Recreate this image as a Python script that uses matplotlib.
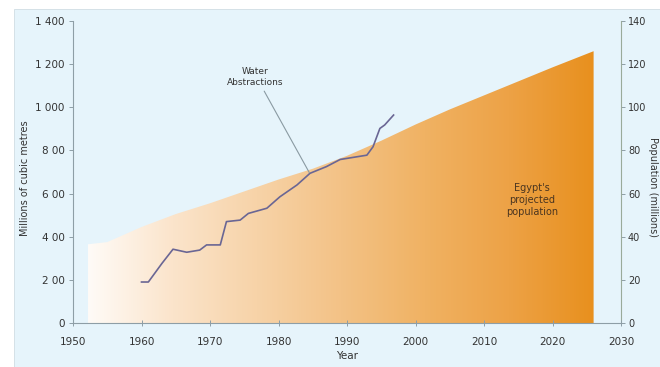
import numpy as np
import matplotlib
matplotlib.use("Agg")
import matplotlib.pyplot as plt
from matplotlib.colors import LinearSegmentedColormap
from matplotlib.patches import Rectangle

# projected population of Egypt (millions)
pop_years = [1952.2, 1955, 1960, 1965, 1970, 1975, 1980, 1985, 1990, 1995,
             2000, 2005, 2010, 2015, 2020, 2026]
pop_values = [36.5, 37.5, 44.5, 50.5, 55.5, 61, 66.5, 71.5, 77.5, 84.5,
              92, 99, 105.5, 112, 118.5, 126]

# water abstractions (millions of cubic metres)
water_years = [1960, 1961, 1963, 1964.6, 1966.6, 1968.5, 1969.5, 1971.5, 1972.4,
               1974.4, 1975.6, 1978.3, 1980.2, 1982.7, 1984.6, 1987, 1989,
               1992.9, 1993.8, 1994.8, 1995.5, 1996.8]
water_values = [190, 190, 277, 342, 328, 338, 362, 362, 470, 477, 508, 532,
                585, 640, 694, 725, 758, 778, 817, 902, 918, 964]

left_ticks = [0, 200, 400, 600, 800, 1000, 1200, 1400]
left_labels = ["0", "2 00", "4 00", "6 00", "8 00", "1 000", "1 200", "1 400"]
right_ticks = [0, 20, 40, 60, 80, 100, 120, 140]
x_ticks = [1950, 1960, 1970, 1980, 1990, 2000, 2010, 2020, 2030]

bg = "#e6f4fb"
txt = "#333333"
spine = "#8e9ea6"

fig = plt.figure(figsize=(6.6, 3.67), dpi=100, facecolor="white")
fig.patches.append(Rectangle((14 / 660, 0), 1, 1 - 9 / 367, transform=fig.transFigure,
                             facecolor=bg, edgecolor="#d0dde3", lw=0.6, zorder=-10))

rect = [73 / 660, 1 - 323 / 367, (621 - 73) / 660, (323 - 21) / 367]
ax2 = fig.add_axes(rect)
ax2.set_facecolor(bg)
ax = fig.add_axes(rect, sharex=ax2)
ax.patch.set_visible(False)
ax.set_zorder(ax2.get_zorder() + 1)

# gradient-filled population area on the right axis
cmap = LinearSegmentedColormap.from_list(
    "egy", ["#fffbf7", "#fbe4cb", "#f7d3a8", "#f3c286", "#f0b263", "#eda246", "#e8901e"])
poly = ax2.fill_between(pop_years, 0, pop_values, facecolor="none", edgecolor="none")
grad = np.linspace(0, 1, 256).reshape(1, -1)
im = ax2.imshow(grad, extent=[pop_years[0], pop_years[-1], 0, 140], aspect="auto",
                cmap=cmap, origin="lower", zorder=1)
im.set_clip_path(poly.get_paths()[0], transform=ax2.transData)

# water abstractions line on the left axis
ax.plot(water_years, water_values, color="#6a6694", lw=1.2, zorder=3)
ax.annotate("Water\nAbstractions", xy=(1984.5, 697), xytext=(1976.6, 1140),
            ha="center", va="center", fontsize=6.5, color=txt, linespacing=1.3,
            arrowprops=dict(arrowstyle="-", color="#8a9aa2", lw=0.8,
                            shrinkA=1, shrinkB=0, relpos=(0.62, 0)))

ax2.text(2017, 57, "Egypt's\nprojected\npopulation", ha="center", va="center",
         fontsize=7, color="#4a3520", linespacing=1.3, zorder=4)

ax.set_xlim(1950, 2030)
ax.set_ylim(0, 1400)
ax2.set_xlim(1950, 2030)
ax2.set_ylim(0, 140)

ax.set_yticks(left_ticks)
ax.set_yticklabels(left_labels)
ax.set_xticks(x_ticks)
ax2.set_yticks(right_ticks)
ax2.yaxis.tick_right()
ax2.yaxis.set_label_position("right")

for s in ["top", "right"]:
    ax.spines[s].set_visible(False)
for s in ["top", "left", "bottom"]:
    ax2.spines[s].set_visible(False)
ax.spines["left"].set_color(spine)
ax.spines["bottom"].set_color(spine)
ax2.spines["right"].set_color("#9aaa9a")
for s in ax.spines.values():
    s.set_linewidth(0.8)
ax2.spines["right"].set_linewidth(0.8)

ax.tick_params(axis="y", length=3, width=0.7, color=spine, labelsize=7.5,
               labelcolor=txt, pad=3)
ax.tick_params(axis="x", direction="inout", length=4, width=0.7, color=spine,
               labelsize=7.5, labelcolor=txt, pad=8)
ax2.tick_params(axis="y", length=3, width=0.7, color=spine, labelsize=7,
                labelcolor=txt, pad=2)
ax2.tick_params(axis="x", bottom=False, labelbottom=False)

ax.set_ylabel("Millions of cubic metres", fontsize=7, color=txt)
ax.yaxis.set_label_coords(-0.078, 0.48)
ax2.set_ylabel("Population (millions)", fontsize=7, color=txt, rotation=270,
               va="center", ha="center")
ax2.yaxis.set_label_coords(1.058, 0.45)
ax.set_xlabel("Year", fontsize=7.5, color=txt, labelpad=3)

fig.savefig("out.png", dpi=100, facecolor=fig.get_facecolor())
